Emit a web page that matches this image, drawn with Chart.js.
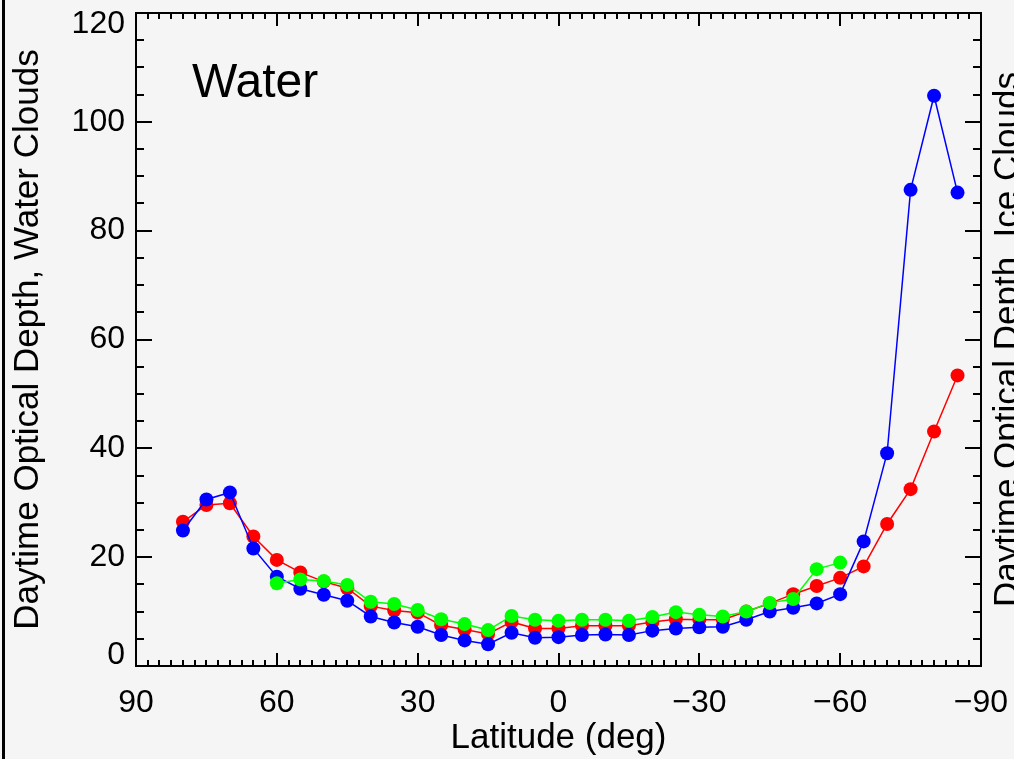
<!DOCTYPE html>
<html lang="en">
<head>
<meta charset="UTF-8">
<title>Daytime Optical Depth, Water Clouds</title>
<script src="https://cdn.jsdelivr.net/npm/chart.js"></script>
<style>
  html, body { margin: 0; padding: 0; background: #f5f5f5; }
  .frame { position: relative; width: 1014px; height: 759px; overflow: hidden; }
  .frame::before { content: ""; position: absolute; left: 2px; top: 0; width: 3px; height: 100%; background: #000; }
  canvas { display: block; }
</style>
</head>
<body>
<div class="frame">
  <canvas id="depthChart" width="1014" height="759"></canvas>
</div>
<script>
const FONT = "'Liberation Sans', Helvetica, Arial, sans-serif";

// latitude bins in degrees, north to south
const latitudes = [80, 75, 70, 65, 60, 55, 50, 45, 40, 35, 30, 25, 20, 15, 10, 5, 0,
  -5, -10, -15, -20, -25, -30, -35, -40, -45, -50, -55, -60, -65, -70, -75, -80, -85];

const redDepth = [26.5, 29.6, 29.9, 23.8, 19.5, 17.2, 15.5, 14.3, 11.0, 10.2, 9.8, 7.5, 6.7, 5.9, 8.1, 6.9, 6.9,
  7.4, 7.4, 7.4, 8.1, 8.6, 8.5, 8.5, 10.0, 11.5, 13.2, 14.7, 16.2, 18.3, 26.1, 32.5, 43.1, 53.4];

const blueDepth = [24.9, 30.6, 31.9, 21.6, 16.4, 14.2, 13.1, 12.0, 9.1, 8.0, 7.2, 5.7, 4.7, 4.0, 6.1, 5.2, 5.3,
  5.7, 5.8, 5.7, 6.5, 6.9, 7.1, 7.2, 8.5, 10.0, 10.7, 11.5, 13.2, 22.9, 39.1, 87.5, 104.8, 87.0];

// the green series only covers 60N to 60S
const greenLatitudes = [60, 55, 50, 45, 40, 35, 30, 25, 20, 15, 10, 5, 0,
  -5, -10, -15, -20, -25, -30, -35, -40, -45, -50, -55, -60];
const greenDepth = [15.2, 15.9, 15.6, 14.9, 11.8, 11.4, 10.3, 8.6, 7.7, 6.6, 9.2, 8.5, 8.3,
  8.5, 8.5, 8.3, 9.0, 9.9, 9.4, 9.1, 10.0, 11.6, 12.3, 17.8, 19.0];

const xTickValues = [90, 60, 30, 0, -30, -60, -90];
const yTickValues = [0, 20, 40, 60, 80, 100, 120];
const xMinorStep = 2.5;
const yMinorStep = 5;

const toPoints = (xs, ys) => xs.map((x, i) => ({ x: x, y: ys[i] }));
const latLabel = v => v < 0 ? '\u2212' + Math.abs(v) : String(v);

// fixed axis boxes; end labels may overhang without shrinking the plot
const fixHeight = h => s => { s.height = h; s.paddingLeft = 0; s.paddingRight = 0; };
const fixWidth = w => s => { s.width = w; s.paddingTop = 0; s.paddingBottom = 0; };

// IDL-style tick marks pointing into the plot on all four sides
const inwardTicks = {
  id: 'inwardTicks',
  beforeDatasetsDraw(chart) {
    const { ctx, chartArea: a, scales } = chart;
    ctx.save();
    ctx.strokeStyle = '#000';
    ctx.lineWidth = 2;
    ctx.beginPath();
    for (let v = -90; v <= 90; v += xMinorStep) {
      const px = Math.round(scales.x.getPixelForValue(v));
      const len = v % 30 === 0 ? 13 : 6;
      ctx.moveTo(px, a.bottom); ctx.lineTo(px, a.bottom - len);
      ctx.moveTo(px, a.top); ctx.lineTo(px, a.top + len);
    }
    for (let v = 0; v <= 120; v += yMinorStep) {
      const py = Math.round(scales.y.getPixelForValue(v));
      const len = v % 20 === 0 ? 16 : 8;
      ctx.moveTo(a.left, py); ctx.lineTo(a.left + len, py);
      ctx.moveTo(a.right, py); ctx.lineTo(a.right - len, py);
    }
    ctx.stroke();
    ctx.restore();
  }
};

// panel name and the right-hand axis title
const panelText = {
  id: 'panelText',
  afterDraw(chart) {
    const { ctx, chartArea: a } = chart;
    ctx.save();
    ctx.fillStyle = '#000';
    ctx.textBaseline = 'alphabetic';
    ctx.font = '48px ' + FONT;
    ctx.fillText('Water', a.left + 56, a.top + 84);
    ctx.font = '35px ' + FONT;
    ctx.textAlign = 'center';
    ctx.translate(a.right + 37, (a.top + a.bottom) / 2);
    ctx.rotate(-Math.PI / 2);
    ctx.fillText('Daytime Optical Depth, Ice Clouds', 0, 0);
    ctx.restore();
  }
};

const line = (data, color, order) => ({
  data: data,
  borderColor: color,
  backgroundColor: color,
  borderWidth: 1.5,
  pointRadius: 7,
  pointBorderWidth: 0,
  pointBackgroundColor: color,
  order: order,
  xAxisID: 'x',
  yAxisID: 'y'
});

const hiddenAxis = {
  type: 'linear',
  ticks: { display: false },
  grid: { drawOnChartArea: false, drawTicks: false },
  border: { color: '#000', width: 2 }
};

new Chart(document.getElementById('depthChart'), {
  type: 'line',
  data: {
    datasets: [
      line(toPoints(latitudes, redDepth), '#ff0000', 3),
      line(toPoints(latitudes, blueDepth), '#0000ff', 2),
      line(toPoints(greenLatitudes, greenDepth), '#00ff00', 1)
    ]
  },
  options: {
    responsive: false,
    animation: false,
    layout: { padding: 0 },
    plugins: { legend: { display: false }, tooltip: { enabled: false } },
    scales: {
      x: {
        type: 'linear',
        position: 'bottom',
        min: -90,
        max: 90,
        reverse: true,
        afterBuildTicks: s => { s.ticks = xTickValues.map(v => ({ value: v })); },
        afterFit: fixHeight(93),
        ticks: { color: '#000', font: { family: FONT, size: 32 }, padding: 18, maxRotation: 0, autoSkip: false, callback: latLabel },
        grid: { drawOnChartArea: false, drawTicks: false },
        border: { color: '#000', width: 2 },
        title: { display: true, text: 'Latitude (deg)', color: '#000', font: { family: FONT, size: 35 }, padding: { top: 0, bottom: 0 } }
      },
      x2: Object.assign({}, hiddenAxis, {
        position: 'top', min: -90, max: 90, reverse: true,
        afterFit: fixHeight(13)
      }),
      y: {
        type: 'linear',
        position: 'left',
        min: 0,
        max: 120,
        afterBuildTicks: s => { s.ticks = yTickValues.map(v => ({ value: v })); },
        afterFit: fixWidth(136),
        ticks: {
          color: '#000',
          font: { family: FONT, size: 32, lineHeight: 0.68 },
          padding: 11,
          autoSkip: false,
          // end labels sit just inside the frame
          callback: v => v === 0 ? ['0', ''] : v === 120 ? ['', '120'] : String(v)
        },
        grid: { drawOnChartArea: false, drawTicks: false },
        border: { color: '#000', width: 2 },
        title: { display: true, text: 'Daytime Optical Depth, Water Clouds', color: '#000', font: { family: FONT, size: 35 }, padding: { top: 7, bottom: 0 } }
      },
      y2: Object.assign({}, hiddenAxis, {
        position: 'right', min: 0, max: 120,
        afterFit: fixWidth(33)
      })
    }
  },
  plugins: [inwardTicks, panelText]
});
</script>
</body>
</html>
